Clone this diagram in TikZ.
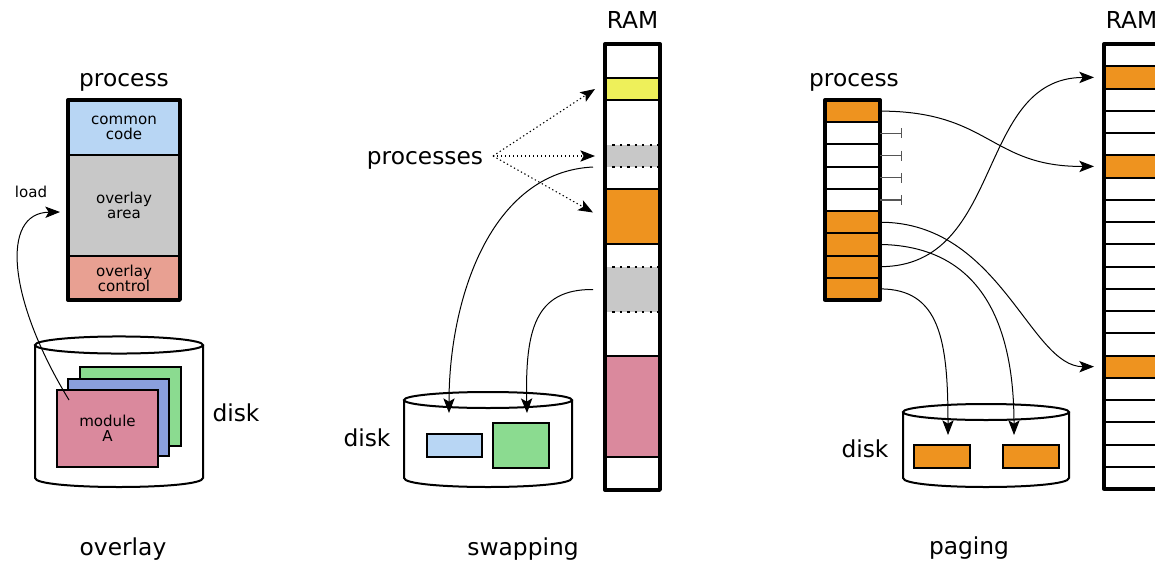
\documentclass[tikz,border=0pt]{standalone}
\usepackage{fontspec}
\setmainfont{DejaVu Sans}
\usetikzlibrary{arrows.meta,calc}
\definecolor{cblue}{HTML}{B8D6F4}
\definecolor{cgray}{HTML}{C8C8C8}
\definecolor{csalmon}{HTML}{E8A092}
\definecolor{cgreen}{HTML}{8BDB90}
\definecolor{cmblue}{HTML}{8A9FDD}
\definecolor{cpink}{HTML}{DA899D}
\definecolor{corange}{HTML}{EE931F}
\definecolor{cyellow}{HTML}{EEF05A}
\definecolor{cbar}{HTML}{555555}
\newcommand\pxl[1]{#1*0.75pt}
\begin{document}
\begin{tikzpicture}[x=0.75pt,y=-0.75pt,
  lbl/.style={font=\fontsize{17.5}{21}\selectfont, inner sep=0pt, anchor=base},
  sml/.style={font=\fontsize{11.3}{11.3}\selectfont, inner sep=0pt, align=center},
  blk/.style={draw, line width=1.5pt, minimum width=\pxl{112}, inner sep=0pt, outer sep=0pt, sml},
  sheet/.style={draw, line width=1.5pt, minimum width=\pxl{101}, inner sep=0pt, outer sep=0pt, sml},
  seg/.style={minimum width=\pxl{55}, inner sep=0pt, outer sep=0pt},
  pcell/.style={draw, line width=1.5pt, minimum width=\pxl{55}, minimum height=\pxl{22.22}, inner sep=0pt, outer sep=0pt},
  rcell/.style={draw, line width=1.5pt, fill=white, minimum width=\pxl{55}, minimum height=\pxl{22.25}, inner sep=0pt, outer sep=0pt},
  drect/.style={draw, line width=1.5pt, minimum height=\pxl{23}, minimum width=\pxl{56}, inner sep=0pt, outer sep=0pt},
  conn/.style={-{Stealth[length=11pt,width=8.5pt,inset=2.5pt]}, line width=0.75pt},
  dotconn/.style={-{Stealth[length=11pt,width=8.5pt,inset=2.5pt]}, line width=0.8pt, dash pattern=on 1pt off 2pt},
  tbar/.style={-{Bar[width=7.5pt]}, line width=1pt, draw=cbar},
  outer/.style={line width=2.5pt, line join=round},
  dotline/.style={line width=1.8pt, dash pattern=on 1.6pt off 4pt},
  cyl/.style={draw, fill=white, line width=1.5pt}
]
\useasboundingbox (0,0) rectangle (1155,560);
\clip (0,0) rectangle (1155,560);

% ================= overlay =================
\node[lbl] (tproc1) at (124,86) {process};
\node[blk, fill=cblue, minimum height=\pxl{55}] (cc) at (124,127.5) {common\\code};
\node[blk, fill=cgray, minimum height=\pxl{101}] (oa) at (124,205.5) {overlay\\area};
\node[blk, fill=csalmon, minimum height=\pxl{44}] (oc) at (124,278) {overlay\\control};
\draw[outer] (cc.north west) rectangle (oc.south east);
\node[sml, anchor=base] (tload) at (31,197) {load};

% disk
\path[cyl] (35,345) -- (35,478) .. controls (35,490) and (203,490) .. (203,478) -- (203,345);
\draw[line width=1.5pt, fill=white] (119,345) ellipse [x radius=63pt, y radius=6.4pt];
\node[sheet, fill=cgreen, minimum height=\pxl{79}] (modC) at (130.5,406.5) {};
\node[sheet, fill=cmblue, minimum height=\pxl{77}] (modB) at (118.5,417.5) {};
\node[sheet, fill=cpink, minimum height=\pxl{77}] (modA) at (107.5,428.5) {module\\A};
\node[lbl] (tdisk1) at (236,421) {disk};
\draw[conn] ($(modA.north west)+(12,10)$) .. controls (8,300) and (0,213) .. ($(oa.west)+(-8,6.5)$);
\node[lbl] (tover) at (123,555) {overlay};

% ================= swapping =================
\node[lbl] (tram1) at (632.5,29) {RAM};
\foreach \n/\t/\b/\c in {s1/44/78/white, s2/78/100/cyellow, s3/100/145/white, s4/145/167/cgray, s5/167/189/white, s6/189/244/corange, s7/244/267/white, s8/267/312/cgray, s9/312/356/white, s10/356/457/cpink, s11/457/490/white}
  \node[seg, fill=\c, minimum height={(\b-\t)*0.75pt}] (\n) at (632.5,{(\t+\b)/2}) {};
\foreach \n in {s2,s6,s10} {
  \draw[line width=1.5pt] (\n.north west) -- (\n.north east);
  \draw[line width=1.5pt] (\n.south west) -- (\n.south east);
}
\foreach \n in {s4,s8} {
  \draw[dotline] (\n.north west) -- (\n.north east);
  \draw[dotline] (\n.south west) -- (\n.south east);
}
\draw[outer] (s1.north west) rectangle (s11.south east);

\node[lbl] (tprocs) at (425,164) {processes};
\coordinate (pfan) at (493,156);
\draw[dotconn] (pfan) -- ($(s2.west)+(-10,0)$);
\draw[dotconn] (pfan) -- ($(s4.west)+(-10,0)$);
\draw[dotconn] (pfan) -- ($(s6.west)+(-12,-4)$);

% disk
\path[cyl] (404,400) -- (404,478) .. controls (404,490) and (572,490) .. (572,478) -- (572,400);
\draw[line width=1.5pt, fill=white] (488,400) ellipse [x radius=63pt, y radius=6pt];
\node[drect, fill=cblue, minimum width=\pxl{55}] (dblue) at (454.5,445.5) {};
\node[drect, fill=cgreen, minimum height=\pxl{45}] (dgreen) at (521,445.5) {};
\node[lbl] (tdisk2) at (367,446) {disk};

\draw[conn] ($(s4.south west)+(-12,0)$) .. controls (490,172) and (449,300) .. ($(dblue.north)+(-5.5,-21)$);
\draw[conn] ($(s8.west)+(-12,0)$) .. controls (535,289) and (525,330) .. ($(dgreen.north)+(6,-10)$);
\node[lbl] (tswap) at (523,555) {swapping};

% ================= paging =================
\node[lbl] (tproc2) at (854,86) {process};
\foreach \k/\c in {1/corange,2/white,3/white,4/white,5/white,6/corange,7/corange,8/corange,9/corange}
  \node[pcell, fill=\c] (p\k) at (852.5,{100+22.222*(\k-0.5)}) {};
\draw[outer] (p1.north west) rectangle (p9.south east);
\foreach \k in {2,3,4,5}
  \draw[tbar] (p\k.east) -- ++(22,0);

\node[lbl] (tram2) at (1131.5,29) {RAM};
\foreach \k in {0,...,19}
  \node[rcell] (r\k) at (1131.5,{44+22.25*(\k+0.5)}) {};
\foreach \k in {1,5,14}
  \draw[line width=1.5pt, fill=corange] (r\k.north west) rectangle (r\k.south east);
\draw[outer] (r0.north west) rectangle (r19.south east);

% disk
\path[cyl] (903,412) -- (903,478) .. controls (903,490) and (1069,490) .. (1069,478) -- (1069,412);
\draw[line width=1.5pt, fill=white] (986,412) ellipse [x radius=62.25pt, y radius=6pt];
\node[drect, fill=corange] (d1) at (942,456.5) {};
\node[drect, fill=corange] (d2) at (1031,456.5) {};
\node[lbl] (tdisk3) at (865,457) {disk};

\draw[conn] (p1.east) .. controls (990,111) and (990,167) .. ($(r5.west)+(-10,0)$);
\draw[conn] (p8.east) .. controls (1005,267) and (975,78) .. ($(r1.west)+(-10,0)$);
\draw[conn] (p6.east) .. controls (1000,222) and (1030,367) .. ($(r14.west)+(-10,0)$);
\draw[conn] (p7.east) .. controls (985,246) and (1014,330) .. ($(d2.north)+(-17,-10)$);
\draw[conn] (p9.east) .. controls (940,289) and (948,340) .. ($(d1.north)+(6,-10)$);
\node[lbl] (tpage) at (969,554) {paging};
\end{tikzpicture}
\end{document}
